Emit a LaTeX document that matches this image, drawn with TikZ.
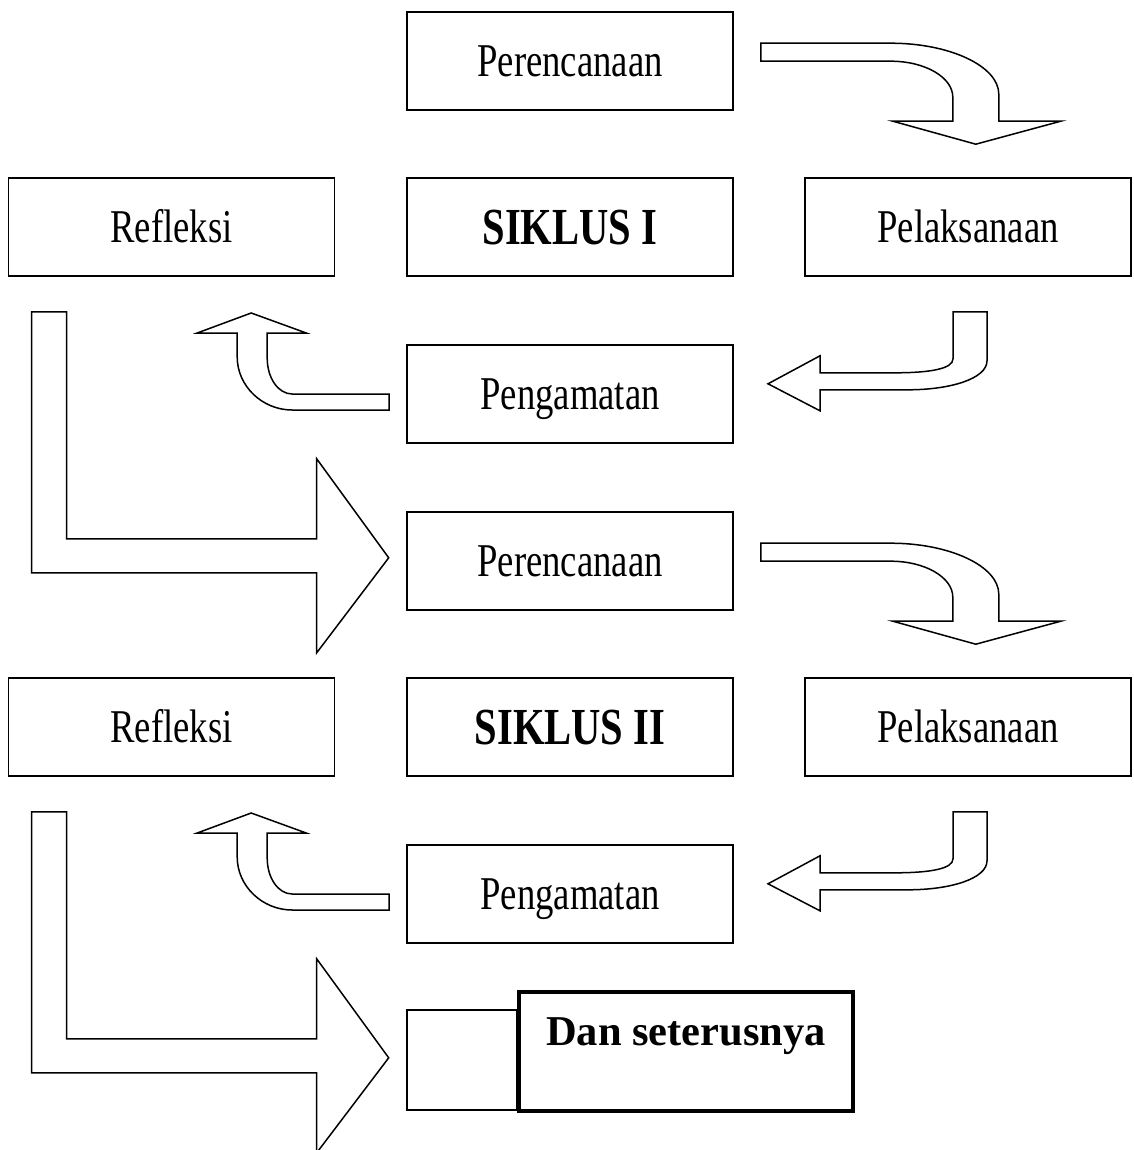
\documentclass[tikz,border=0pt]{standalone}
\usepackage{fontspec}
\usepackage{tikz}
\usetikzlibrary{calc}
\newfontfamily\boxfont[FakeStretch=0.78]{Liberation Serif}
\newfontfamily\endfont{Liberation Serif}

\begin{document}
\begin{tikzpicture}[x=1pt, y=-1pt,
    box/.style={draw, line width=1.6pt, fill=white, inner sep=0pt,
        minimum width=326pt, minimum height=98pt,
        text height=31pt, text depth=0pt,
        font=\boxfont\fontsize{47}{50}\selectfont},
    titlebox/.style={box, text height=34pt,
        font=\boxfont\bfseries\fontsize{52}{55}\selectfont},
    blockarrow/.style={draw, line width=1.5pt, fill=white, line join=miter}]
    \useasboundingbox (0,0) rectangle (1133,1150);
    \clip (0,0) rectangle (1133,1150);
    \foreach \k/\dy/\lab in {1/0/I, 2/500/II} {
        \node[box] (ren\k) at (570,61+\dy) {Perencanaan};
        \node[box] (ref\k) at (171.5,227+\dy) {Refleksi};
        \node[titlebox] (sik\k) at (570,227+\dy) {SIKLUS \lab};
        \node[box] (pel\k) at (968,227+\dy) {Pelaksanaan};
        \node[box] (pen\k) at (570,394+\dy) {Pengamatan};
        % perencanaan -> pelaksanaan
        \begin{scope}[shift={(ren\k.north east)}]
            \draw[blockarrow] (27,32) -- (157,32) .. controls (216,32) and (265,55) .. (265,83)
                -- (265,110) -- (327,110) -- (242,133) -- (159,110) -- (219,110) -- (219,86)
                .. controls (219,66) and (191,50) .. (157,50) -- (27,50) -- cycle;
        \end{scope}
        % pelaksanaan -> pengamatan
        \begin{scope}[shift={(pel\k.south)}]
            \draw[blockarrow] (-15,35) -- (19,35) -- (19,84) .. controls (19,102) and (-18,113) .. (-60,113)
                -- (-148,113) -- (-148,134) -- (-200,107) -- (-148,79) -- (-148,96) -- (-73,96)
                .. controls (-38,96) and (-15,92) .. (-15,82) -- cycle;
        \end{scope}
        % pengamatan -> refleksi
        \begin{scope}[shift={(pen\k.west)}]
            \draw[blockarrow] (-17,0) -- (-114,0) .. controls (-128,0) and (-139,-16) .. (-139,-36)
                -- (-139,-61) -- (-100,-61) -- (-155,-81) -- (-209,-61) -- (-169,-61) -- (-169,-37)
                .. controls (-169,-8) and (-144,16) .. (-114,16) -- (-17,16) -- cycle;
        \end{scope}
        % refleksi -> siklus berikutnya
        \begin{scope}[shift={(ref\k.south west)}]
            \draw[blockarrow] (24,35) -- (59,35) -- (59,262) -- (309,262) -- (309,182) -- (381,281)
                -- (309,376) -- (309,296) -- (24,296) -- cycle;
        \end{scope}
    }
    \node[draw, line width=1.6pt, minimum width=110pt, minimum height=100pt] (next) at (462,1060) {};
    \node[draw, line width=4pt, fill=white, inner sep=0pt, minimum width=334pt,
        text height=53pt, text depth=66pt, font=\endfont\bfseries\fontsize{42.5}{45}\selectfont]
        (dst) at (686,1051.5) {Dan seterusnya};
\end{tikzpicture}
\end{document}
